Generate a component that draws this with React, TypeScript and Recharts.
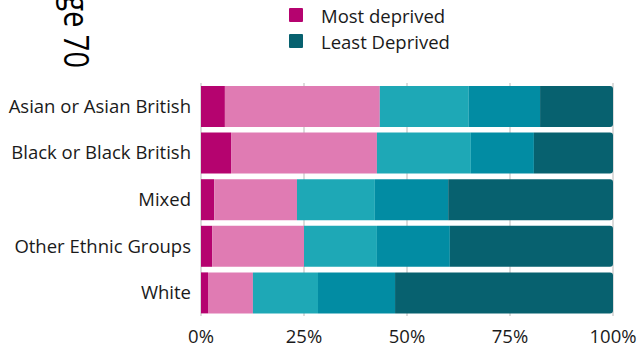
import { BarChart, Bar, XAxis, YAxis, CartesianGrid } from 'recharts';

const GROUPS = ['Asian or Asian British', 'Black or Black British', 'Mixed', 'Other Ethnic Groups', 'White'];
const Q1 = [5.8, 7.3, 3.2, 2.7, 1.7];
const Q2 = [37.6, 35.4, 20.1, 22.3, 10.9];
const Q3 = [21.6, 22.8, 18.9, 17.7, 15.8];
const Q4 = [17.3, 15.3, 17.8, 17.7, 18.7];
const Q5 = [17.7, 19.2, 40.0, 39.6, 52.9];
const X_TICKS = [0, 25, 50, 75, 100];

const COLORS = ['#B5036F', '#E07BB3', '#1EA8B6', '#028CA3', '#07616F'];
const FONT = '"Open Sans", "Noto Sans", sans-serif';

const data = GROUPS.map((g, i) => ({ group: g, q1: Q1[i], q2: Q2[i], q3: Q3[i], q4: Q4[i], q5: Q5[i] }));

export default function App() {
  return (
    <div style={s.wrap}>
      <div style={s.page}>Page 70</div>
      <div style={s.legend}>
        <div style={s.legendRow}>
          <span style={{ ...s.swatch, background: COLORS[0] }} />
          <span>Most deprived</span>
        </div>
        <div style={s.legendRow}>
          <span style={{ ...s.swatch, background: COLORS[4] }} />
          <span>Least Deprived</span>
        </div>
      </div>
      <BarChart
        width={638}
        height={350}
        data={data}
        layout="vertical"
        barSize={41}
        margin={{ top: 83, right: 25, left: 0, bottom: 0 }}
      >
        <CartesianGrid stroke="#D0D0D0" strokeWidth={1.5} horizontal={false} />
        <XAxis
          type="number"
          domain={[0, 100]}
          ticks={X_TICKS}
          tickFormatter={(v) => `${v}%`}
          height={34}
          axisLine={false}
          tickLine={false}
          tick={{ fontSize: 18.5, fill: '#1a1a1a', fontFamily: FONT }}
          tickMargin={8}
        />
        <YAxis
          type="category"
          dataKey="group"
          width={201}
          axisLine={false}
          tickLine={false}
          tickMargin={4}
          tick={{ fontSize: 18.5, fill: '#1a1a1a', fontFamily: FONT }}
        />
        <Bar dataKey="q1" stackId="a" fill={COLORS[0]} isAnimationActive={false} />
        <Bar dataKey="q2" stackId="a" fill={COLORS[1]} isAnimationActive={false} />
        <Bar dataKey="q3" stackId="a" fill={COLORS[2]} isAnimationActive={false} />
        <Bar dataKey="q4" stackId="a" fill={COLORS[3]} isAnimationActive={false} />
        <Bar dataKey="q5" stackId="a" fill={COLORS[4]} radius={[0, 3, 3, 0]} isAnimationActive={false} />
      </BarChart>
    </div>
  );
}

const s: Record<string, React.CSSProperties> = {
  wrap: {
    position: 'absolute',
    top: 0,
    left: 0,
    width: 638,
    height: 350,
    overflow: 'hidden',
    background: '#fff',
    fontFamily: FONT,
  },
  page: {
    position: 'absolute',
    left: 94,
    top: -38,
    transform: 'rotate(90deg) scaleX(0.85)',
    transformOrigin: '0 0',
    fontSize: 34,
    lineHeight: '34px',
    color: '#000',
    whiteSpace: 'nowrap',
  },
  legend: {
    position: 'absolute',
    left: 289,
    top: 2,
    fontSize: 18.5,
    color: '#1a1a1a',
    zIndex: 2,
  },
  legendRow: {
    display: 'flex',
    alignItems: 'center',
    height: 26,
  },
  swatch: {
    display: 'inline-block',
    width: 14,
    height: 14,
    marginRight: 18,
    borderRadius: 1,
  },
};
